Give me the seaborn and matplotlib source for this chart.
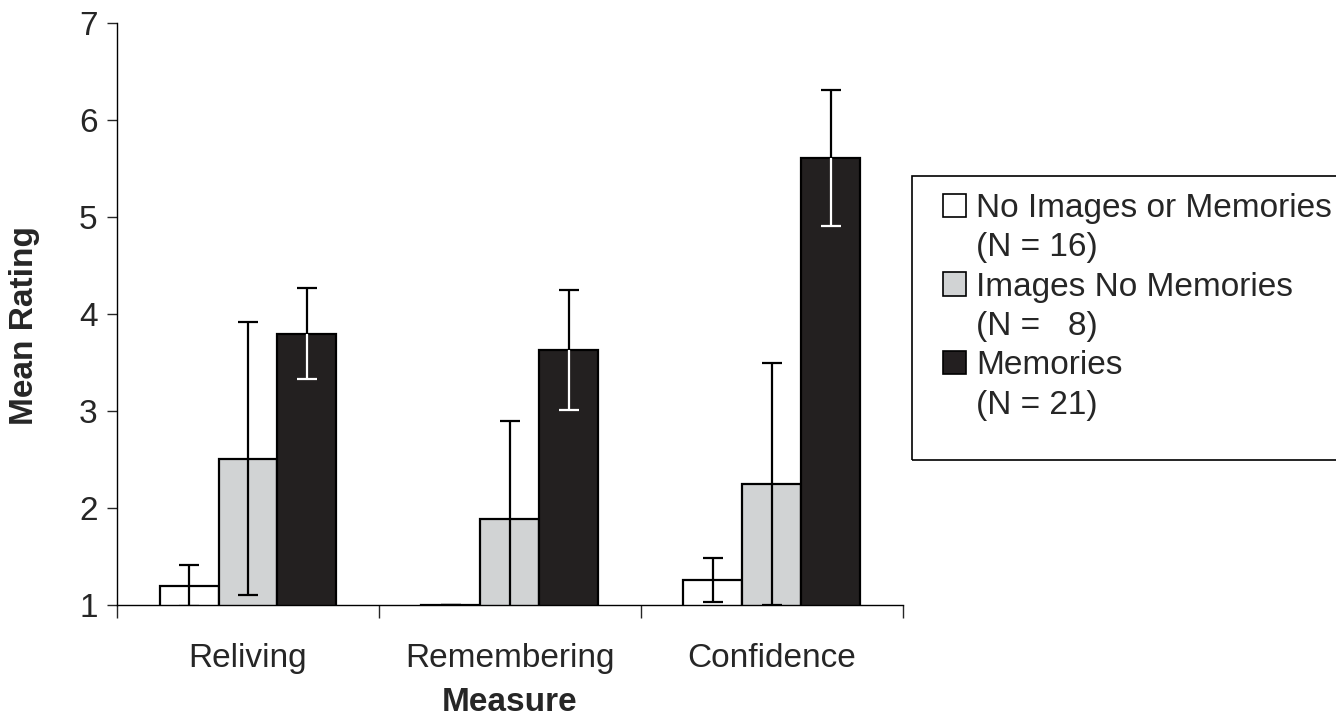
import matplotlib
matplotlib.use("Agg")
import matplotlib.pyplot as plt
from matplotlib.patches import Patch, Rectangle
from matplotlib.ticker import FixedLocator
import numpy as np
import pandas as pd
import seaborn as sns

measures = ["Reliving", "Remembering", "Confidence"]
groups = ["No Images or Memories", "Images No Memories", "Memories"]
group_n = ["(N = 16)", "(N =   8)", "(N = 21)"]
means_none = [1.20, 1.00, 1.26]
means_images = [2.51, 1.89, 2.25]
means_memories = [3.80, 3.63, 5.61]
err_none = [0.21, 0.00, 0.23]
err_images = [1.41, 1.01, 1.25]
err_memories = [0.47, 0.62, 0.70]
colors = ["#ffffff", "#d1d3d4", "#231f20"]

sns.set_style("ticks")
plt.rcParams["font.family"] = ["Liberation Sans", "DejaVu Sans"]
FS = 24

df = pd.DataFrame({
    "measure": measures * 3,
    "group": [g for g in groups for _ in measures],
    "rating": means_none + means_images + means_memories,
})

fig = plt.figure(figsize=(13.36, 7.23), dpi=100)
ax = fig.add_axes([0.0876, 0.163, 0.588, 0.805])
sns.barplot(data=df, x="measure", y="rating", hue="group", order=measures, hue_order=groups,
            palette=colors, width=0.675, edgecolor="black", linewidth=1.6,
            errorbar=None, legend=False, ax=ax)

# error bars: black above the bars, white inside the dark bars
bar_conts = list(ax.containers)
errs = [err_none, err_images, err_memories]
means = [means_none, means_images, means_memories]
for i, cont in enumerate(bar_conts):
    xs = np.array([b.get_x() + b.get_width() / 2 for b in cont.patches])
    m = np.array(means[i])
    e = np.array(errs[i])
    z = np.zeros_like(e)
    if i < 2:
        ax.errorbar(xs, m, yerr=e, fmt="none", ecolor="black", elinewidth=1.6,
                    capsize=7, capthick=1.6, zorder=5)
    else:
        _, caps, _ = ax.errorbar(xs, m, yerr=[z, e], fmt="none", ecolor="black",
                                 elinewidth=1.6, capsize=7, capthick=1.6, zorder=5)
        caps[0].set_visible(False)
        _, caps, _ = ax.errorbar(xs, m, yerr=[e, z], fmt="none", ecolor="white",
                                 elinewidth=1.6, capsize=7, capthick=1.6, zorder=5)
        caps[1].set_visible(False)

ax.set_ylim(1, 7)
ax.set_xlim(-0.5, 2.5)
ax.set_yticks(range(1, 8))
ax.xaxis.set_minor_locator(FixedLocator([-0.5, 0.5, 1.5, 2.5]))
ax.tick_params(axis="x", which="major", length=0, pad=27, labelsize=FS)
ax.tick_params(axis="x", which="minor", length=9, width=1, direction="out")
ax.tick_params(axis="y", length=7, width=1, pad=7, labelsize=FS)
for s in ["top", "right"]:
    ax.spines[s].set_visible(False)
for s in ["left", "bottom"]:
    ax.spines[s].set_linewidth(1)
    ax.spines[s].set_color("black")

ax.set_xlabel("Measure", fontsize=FS, fontweight="bold")
ax.set_ylabel("Mean Rating", fontsize=FS, fontweight="bold")
ax.xaxis.set_label_coords(0.5, -0.141)
ax.yaxis.set_label_coords(-0.098, 0.48)

# legend: square on the first line of each entry, N on the line below
handles, labels = [], []
for c, g, n in zip(colors, groups, group_n):
    handles += [Patch(facecolor=c, edgecolor="black", linewidth=1.2),
                Patch(facecolor="none", edgecolor="none")]
    labels += [g, n]
W, H = 1336, 723
fig.legend(handles, labels, loc="upper left", bbox_to_anchor=(943 / W, 1 - 193 / H),
           fontsize=FS, frameon=False, handlelength=0.7, handleheight=0.7,
           handletextpad=0.3, labelspacing=0.25, borderpad=0, borderaxespad=0)
fig.add_artist(Rectangle((912 / W, 1 - 460 / H), 440 / W, 284 / H, transform=fig.transFigure,
                         facecolor="none", edgecolor="black", linewidth=1.2))

fig.savefig("out.png", dpi=100)
